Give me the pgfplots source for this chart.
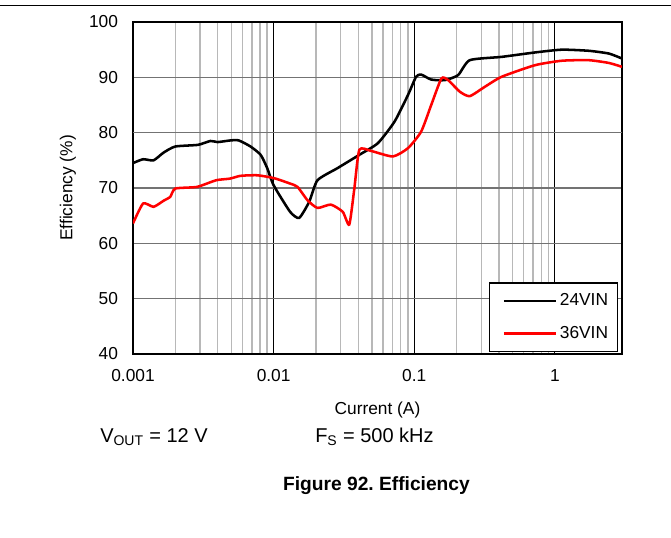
\documentclass[border=0pt]{standalone}
\usepackage{pgfplots}
\pgfplotsset{compat=1.18}
\usepackage{fontspec}
\setmainfont{Liberation Sans}
\frenchspacing
\newcommand{\tickfont}{\fontsize{13}{15}\selectfont}
\begin{document}
\begin{tikzpicture}
\begin{axis}[
  scale only axis,
  width=366.75pt, height=249pt,
  xmode=log, xmin=0.001, xmax=3,
  ymin=40, ymax=100, ytick={40,50,...,100},
  xtick={0.001,0.01,0.1,1}, xticklabels={0.001,0.01,0.1,1},
  /pgf/number format/assume math mode=true,
  major tick length=0pt, minor tick length=0pt,
  axis line style={line width=1.5pt},
  xmajorgrids, xminorgrids, ymajorgrids,
  major x grid style={black, line width=0.6pt},
  minor x grid style={black!28, line width=1.1pt},
  major y grid style={black!55, line width=0.8pt},
  extra y ticks={80}, extra y tick labels={},
  extra y tick style={grid=major, major grid style={black, line width=0.8pt}},
  tick label style={font=\tickfont},
  yticklabel style={xshift=-7.7pt},
  xticklabel style={yshift=-8pt},
  xlabel={Current (A)}, ylabel={Efficiency (\%)},
  label style={font=\tickfont},
  xlabel style={at={(axis description cs:0.5,0)}, anchor=base, yshift=-45pt},
  ylabel style={at={(axis description cs:-0.133,0.5)}, anchor=center},
  legend style={at={(0.992,0.006)}, anchor=south east, font=\tickfont,
    draw=black, line width=1pt, inner xsep=5pt, inner ysep=6pt, row sep=10pt},
  legend cell align=left,
  legend image code/.code={\draw[#1] (0pt,0pt) -- (39pt,0pt); \path (-5pt,0pt);},
]
\addplot[black, line width=1.9pt, smooth, tension=0.35] coordinates {
(0.001,74.5)(0.00118,75.2)(0.0014,75.0)(0.00165,76.4)(0.002,77.5)(0.0029,77.8)
(0.00355,78.5)(0.004,78.3)(0.00493,78.6)(0.00565,78.6)(0.00685,77.5)(0.00808,76.0)
(0.009,73.6)(0.01,70.5)(0.0131,65.7)(0.0152,64.6)(0.0179,67.5)(0.0205,71.4)
(0.0285,73.6)(0.0407,76.0)(0.0551,78.1)(0.0724,82.0)(0.0902,86.8)(0.103,90.1)
(0.112,90.5)(0.132,89.6)(0.165,89.5)(0.205,90.4)(0.248,93.1)(0.418,93.7)
(0.723,94.5)(1.12,95.0)(1.74,94.8)(2.42,94.3)(3.0,93.4)};
\addlegendentry{24VIN}
\addplot[red, line width=1.9pt, smooth, tension=0.35] coordinates {
(0.001,63.6)(0.00118,67.2)(0.0014,66.6)(0.00165,67.7)(0.00184,68.4)(0.002,69.9)
(0.00285,70.2)(0.0039,71.4)(0.0049,71.7)(0.00581,72.2)(0.00765,72.3)(0.01,71.8)
(0.0131,70.8)(0.0148,70.2)(0.0174,67.8)(0.0205,66.4)(0.0255,67.0)(0.031,65.7)
(0.0345,63.4)(0.0375,69.9)(0.0407,76.9)(0.0493,76.7)(0.0704,75.7)(0.0902,77.2)
(0.112,80.2)(0.132,85.0)(0.156,89.8)(0.174,89.5)(0.211,87.4)(0.248,86.6)
(0.318,88.3)(0.418,90.1)(0.723,92.2)(1.12,93.0)(1.74,93.1)(2.42,92.6)(3.0,91.9)};
\addlegendentry{36VIN}
\end{axis}
\path[use as bounding box] (-99.75pt,-137.25pt) rectangle (403.5pt,265.5pt);
\draw[line width=0.75pt] (-99.75pt,261.75pt) -- (403.5pt,261.75pt);
\node[anchor=base west, font=\fontsize{15}{17}\selectfont, inner sep=0pt] at (-24.75pt,-66.4pt) {V\textsubscript{OUT} = 12 V};
\node[anchor=base west, font=\fontsize{15}{17}\selectfont, inner sep=0pt] at (136.5pt,-66.4pt) {F\textsubscript{S} = 500 kHz};
\node[anchor=base, font=\fontsize{14.4}{17}\selectfont\bfseries, inner sep=0pt] at (182.6pt,-102pt) {Figure 92. Efficiency};
\end{tikzpicture}
\end{document}
